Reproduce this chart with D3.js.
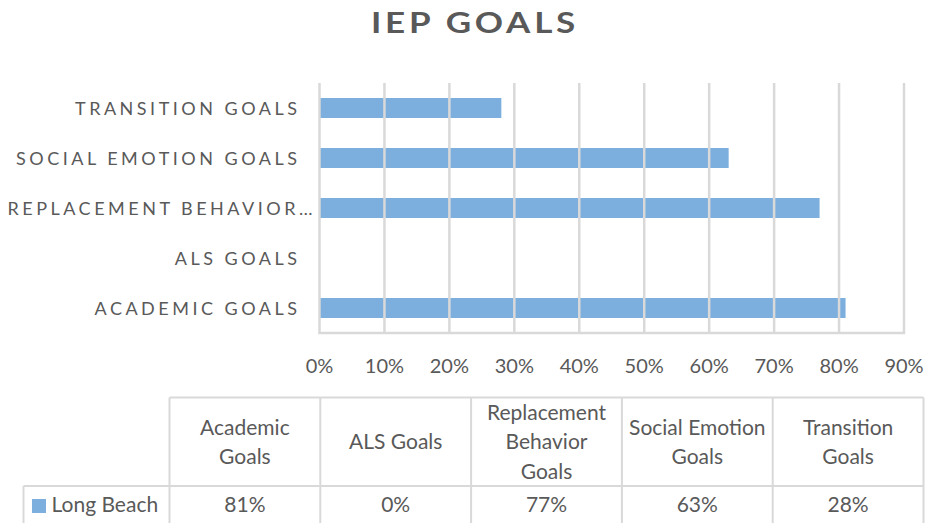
<!DOCTYPE html>
<html lang="en">
<head>
    <meta charset="utf-8">
    <title>IEP Goals</title>
    <script type="text/javascript" src="https://d3js.org/d3.v7.min.js"></script>
    <style type="text/css">
        body { margin: 0; background: #fff; }
        text { font-family: Lato, "Open Sans", sans-serif; fill: #595959; }
    </style>
</head>
<body>
<svg width="926" height="523"></svg>
<script type="text/javascript">

    // data
    const categories = ["Academic Goals", "ALS Goals", "Replacement Behavior Goals", "Social Emotion Goals", "Transition Goals"];
    const axisLabels = ["ACADEMIC GOALS", "ALS GOALS", "REPLACEMENT BEHAVIOR…", "SOCIAL EMOTION GOALS", "TRANSITION GOALS"];
    const headerLines = [["Academic", "Goals"], ["ALS Goals"], ["Replacement", "Behavior", "Goals"], ["Social Emotion", "Goals"], ["Transition", "Goals"]];
    const seriesName = "Long Beach";
    const values = [0.81, 0, 0.77, 0.63, 0.28];
    const ticks = [0, 0.1, 0.2, 0.3, 0.4, 0.5, 0.6, 0.7, 0.8, 0.9];

    const svg = d3.select("svg");
    const barColor = "#7cafdd";
    const gridColor = "#d9d9d9";

    // title (the source picture is stretched sideways a bit)
    svg.append("text")
        .attr("transform", "translate(475,32.7) scale(1.25,1)")
        .attr("text-anchor", "middle")
        .style("font-size", "28px")
        .style("font-weight", "bold")
        .style("letter-spacing", "3px")
        .text("IEP GOALS");

    // scales
    const x = d3.scaleLinear().domain([0, 0.9]).range([319.5, 904]);
    const y = d3.scaleBand()
        .domain(d3.range(categories.length).reverse())
        .range([83, 333])
        .paddingInner(0.6)
        .paddingOuter(0.3);

    // bars
    svg.append("g").selectAll("rect")
        .data(values)
        .join("rect")
        .attr("x", x(0))
        .attr("y", (d, i) => y(i))
        .attr("width", d => x(d) - x(0))
        .attr("height", y.bandwidth())
        .style("fill", barColor);

    // gridlines on top
    svg.append("g").selectAll("line")
        .data(ticks)
        .join("line")
        .attr("x1", d => x(d))
        .attr("x2", d => x(d))
        .attr("y1", 83)
        .attr("y2", 334)
        .style("stroke", gridColor)
        .style("stroke-width", 2.5);

    svg.append("line")
        .attr("x1", x(0) - 1)
        .attr("x2", x(0.9) + 1)
        .attr("y1", 333)
        .attr("y2", 333)
        .style("stroke", gridColor)
        .style("stroke-width", 2.5);

    // category labels
    svg.append("g").selectAll("text")
        .data(axisLabels)
        .join("text")
        .attr("x", d => d.endsWith("…") ? 316 : 300.5)
        .attr("y", (d, i) => y(i) + y.bandwidth() / 2 + 6.5)
        .attr("text-anchor", "end")
        .style("font-size", "18px")
        .style("letter-spacing", "3.5px")
        .text(d => d);

    // tick labels
    svg.append("g").selectAll("text")
        .data(ticks)
        .join("text")
        .attr("x", d => x(d))
        .attr("y", 372.5)
        .attr("text-anchor", "middle")
        .style("font-size", "20px")
        .text(d3.format(".0%"));

    // data table
    const col = d3.scaleBand()
        .domain(d3.range(categories.length))
        .range([169.5, 923.5]);
    const tableTop = 397.5, rowLine = 486, tableBottom = 530;
    const tbl = svg.append("g")
        .style("stroke", gridColor)
        .style("stroke-width", 2);

    tbl.append("line").attr("x1", 169.5).attr("x2", 923.5).attr("y1", tableTop).attr("y2", tableTop);
    tbl.append("line").attr("x1", 23.5).attr("x2", 923.5).attr("y1", rowLine).attr("y2", rowLine);
    tbl.append("line").attr("x1", 23.5).attr("x2", 23.5).attr("y1", rowLine).attr("y2", tableBottom);
    tbl.selectAll(".vline")
        .data(d3.range(categories.length + 1))
        .join("line")
        .attr("class", "vline")
        .attr("x1", i => 169.5 + i * col.step())
        .attr("x2", i => 169.5 + i * col.step())
        .attr("y1", tableTop)
        .attr("y2", tableBottom);

    // header text
    const lineH = 29.5;
    const headMid = (tableTop + rowLine) / 2;
    const heads = svg.append("g").selectAll("text")
        .data(headerLines)
        .join("text")
        .attr("text-anchor", "middle")
        .style("font-size", "21px");
    heads.each(function (lines, i) {
        const t = d3.select(this);
        lines.forEach((ln, j) => {
            t.append("tspan")
                .attr("x", col(i) + col.bandwidth() / 2)
                .attr("y", headMid + 7.5 + (j - (lines.length - 1) / 2) * lineH)
                .text(ln);
        });
    });

    // value row
    svg.append("g").selectAll("text")
        .data(values)
        .join("text")
        .attr("x", (d, i) => col(i) + col.bandwidth() / 2)
        .attr("y", 511.5)
        .attr("text-anchor", "middle")
        .style("font-size", "21px")
        .text(d3.format(".0%"));

    // legend key
    svg.append("rect")
        .attr("x", 32)
        .attr("y", 499)
        .attr("width", 14)
        .attr("height", 14)
        .style("fill", barColor);
    svg.append("text")
        .attr("x", 51.5)
        .attr("y", 511.5)
        .style("font-size", "21px")
        .text(seriesName);

</script>
</body>
</html>
